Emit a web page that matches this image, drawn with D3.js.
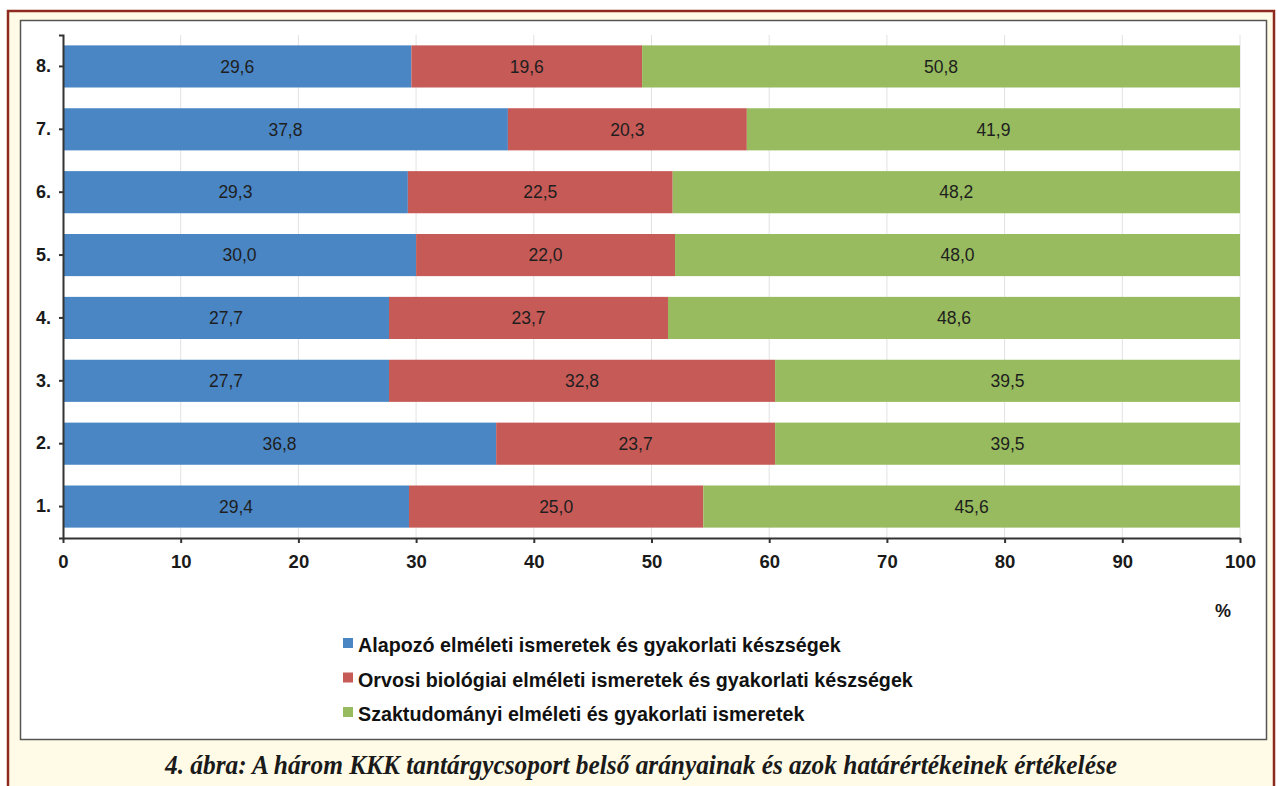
<!DOCTYPE html>
<html>
<head>
<meta charset="utf-8">
<script src="https://cdn.jsdelivr.net/npm/d3@7/dist/d3.min.js"></script>
<style>
  html, body { margin: 0; padding: 0; background: #ffffff; }
  svg { display: block; }
</style>
</head>
<body>
<svg id="chart" width="1277" height="786"></svg>
<script>
// Category labels (bottom to top in the drawing)
const categories = ["1.", "2.", "3.", "4.", "5.", "6.", "7.", "8."];
// Share of each subject group per category, in percent
const alapozo   = [29.4, 36.8, 27.7, 27.7, 30.0, 29.3, 37.8, 29.6];
const orvosi    = [25.0, 23.7, 32.8, 23.7, 22.0, 22.5, 20.3, 19.6];
const szakmai   = [45.6, 39.5, 39.5, 48.6, 48.0, 48.2, 41.9, 50.8];
const seriesNames = [
  "Alapozó elméleti ismeretek és gyakorlati készségek",
  "Orvosi biológiai elméleti ismeretek és gyakorlati készségek",
  "Szaktudományi elméleti és gyakorlati ismeretek"
];
const seriesColors = ["#4a86c4", "#c65a57", "#97bb5e"];
const xTicks = [0, 10, 20, 30, 40, 50, 60, 70, 80, 90, 100];
const caption = "4. ábra: A három KKK tantárgycsoport belső arányainak és azok határértékeinek értékelése";

const SANS = "Liberation Sans, Arial, Helvetica, sans-serif";
const svg = d3.select("#chart");
const H = 786;

// Frame: cream page with a dark red rule, white chart panel inside
svg.append("rect").attr("x", 8).attr("y", 11).attr("width", 1266).attr("height", H)
  .attr("fill", "#fffbe6").attr("stroke", "#8e2a1f").attr("stroke-width", 2.5);
svg.append("rect").attr("x", 20.5).attr("y", 20.5).attr("width", 1246).attr("height", 719)
  .attr("fill", "#ffffff").attr("stroke", "#555555").attr("stroke-width", 1.5);

const table = categories.map((c, i) => ({ cat: c, s0: alapozo[i], s1: orvosi[i], s2: szakmai[i] }));
const stack = d3.stack().keys(["s0", "s1", "s2"])(table);

const x = d3.scaleLinear().domain([0, 100]).range([63, 1240]);
const y = d3.scaleBand().domain(categories.slice().reverse()).range([35, 538]).paddingInner(0.33).paddingOuter(0.165);

// Vertical gridlines
svg.append("g").selectAll("line").data(xTicks.slice(1)).join("line")
  .attr("x1", d => x(d)).attr("x2", d => x(d))
  .attr("y1", 35).attr("y2", 538)
  .attr("stroke", "#e2e2e2").attr("stroke-width", 1);

// Stacked bars
const fmt = v => v.toFixed(1).replace(".", ",");
stack.forEach((layer, k) => {
  const g = svg.append("g");
  g.selectAll("rect").data(layer).join("rect")
    .attr("x", d => x(d[0]))
    .attr("width", d => x(d[1]) - x(d[0]))
    .attr("y", d => y(d.data.cat))
    .attr("height", y.bandwidth())
    .attr("fill", seriesColors[k]);
  g.selectAll("text").data(layer).join("text")
    .attr("x", d => (x(d[0]) + x(d[1])) / 2)
    .attr("y", d => y(d.data.cat) + y.bandwidth() / 2)
    .attr("dy", "0.36em")
    .attr("text-anchor", "middle")
    .attr("font-family", SANS)
    .attr("font-size", 17.5)
    .attr("fill", "#1e1e1e")
    .text(d => fmt(d[1] - d[0]));
});

// Axes
const xAxis = svg.append("g").attr("transform", "translate(0,538)")
  .call(d3.axisBottom(x).tickValues(xTicks).tickSize(5).tickSizeOuter(0).tickFormat(d3.format("d")));
xAxis.select(".domain").attr("stroke", "#333").attr("stroke-width", 2);
xAxis.selectAll(".tick line").attr("stroke", "#333").attr("stroke-width", 2);
xAxis.selectAll("text").attr("font-family", SANS)
  .attr("font-size", 18.5).attr("font-weight", "bold").attr("fill", "#1a1a1a").attr("y", 17).attr("dy", "0.71em");

const yAxis = svg.append("g").attr("transform", "translate(63,0)")
  .call(d3.axisLeft(y).tickSize(4).tickSizeOuter(4));
yAxis.select(".domain").attr("stroke", "#333").attr("stroke-width", 2);
yAxis.selectAll(".tick line").attr("stroke", "#333").attr("stroke-width", 2);
yAxis.selectAll("text").attr("font-family", SANS)
  .attr("font-size", 18).attr("font-weight", "bold").attr("fill", "#1a1a1a").attr("x", -12);

// Unit label
svg.append("text").attr("x", 1223).attr("y", 617).attr("text-anchor", "middle")
  .attr("font-family", SANS).attr("font-size", 18)
  .attr("font-weight", "bold").attr("fill", "#1a1a1a").text("%");

// Legend
const legend = svg.append("g").selectAll("g").data(seriesNames).join("g")
  .attr("transform", (d, i) => `translate(343,${645 + i * 34.5})`);
legend.append("rect").attr("x", 0).attr("y", -7).attr("width", 10).attr("height", 10)
  .attr("fill", (d, i) => seriesColors[i]);
legend.append("text").attr("x", 15).attr("y", 0).attr("dy", "0.36em")
  .attr("font-family", SANS).attr("font-size", 19.7)
  .attr("font-weight", "bold").attr("fill", "#111").text(d => d);

// Caption
svg.append("text").attr("x", 641).attr("y", 774).attr("text-anchor", "middle")
  .attr("font-family", "Liberation Serif, Times New Roman, serif").attr("font-size", 27)
  .attr("font-weight", "bold").attr("font-style", "italic").attr("fill", "#1a1a1a")
  .attr("textLength", 952).attr("lengthAdjust", "spacingAndGlyphs")
  .text(caption);
</script>
</body>
</html>
